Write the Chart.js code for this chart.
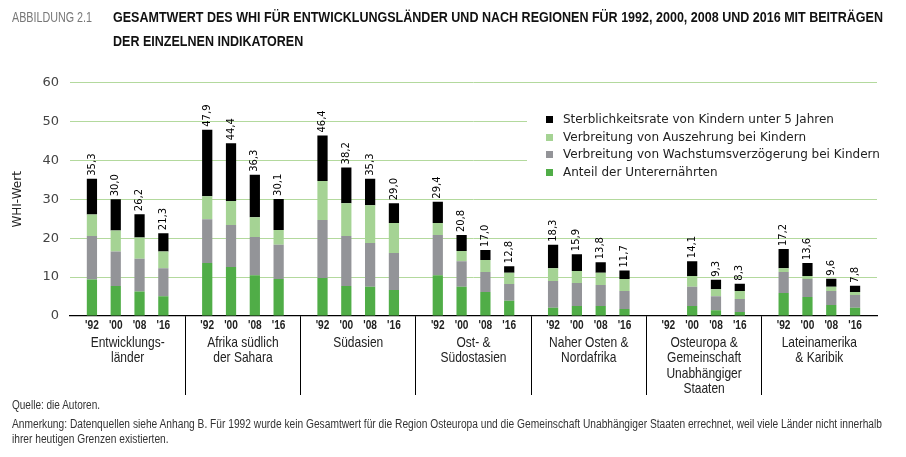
<!DOCTYPE html>
<html lang="de">

<head>
    <meta charset="UTF-8">
    <title>WHI nach Regionen</title>
    <script src="https://cdn.jsdelivr.net/npm/chart.js"></script>
    <style>
        body {
            margin: 0;
            background: #fff;
        }

        .seite {
            position: relative;
            width: 906px;
            height: 457px;
            overflow: hidden;
            font-family: "Liberation Sans", Arial, sans-serif;
        }

        .grafik {
            position: absolute;
            left: 0;
            top: 0;
            width: 906px;
            height: 457px;
        }

        .schmal {
            position: absolute;
            white-space: nowrap;
            transform-origin: 0 0;
        }

        .abb {
            left: 12px;
            top: 5px;
            font-size: 14px;
            line-height: 24px;
            color: #777;
        }

        .titel {
            left: 113px;
            top: 5px;
            font-size: 15px;
            line-height: 24px;
            font-weight: bold;
            color: #111;
        }

        .fuss {
            left: 12px;
            font-size: 12px;
            line-height: 15px;
            color: #333;
        }

        .legende {
            position: absolute;
            left: 527px;
            top: 100px;
            width: 350px;
            height: 88px;
            padding-top: 11px;
            box-sizing: border-box;
            background: #fff;
            font-family: "DejaVu Sans", sans-serif;
            font-size: 12px;
            color: #222;
        }

        .legende div {
            position: relative;
            height: 17.5px;
            line-height: 17.5px;
            padding-left: 36px;
            white-space: nowrap;
        }

        .legende span {
            position: absolute;
            left: 19px;
            top: 5px;
            width: 7px;
            height: 7px;
        }
    </style>
</head>

<body>
    <div class="seite">
        <div class="grafik"><canvas id="whiGrafik"></canvas></div>
        <div class="schmal abb" data-breite="80">ABBILDUNG 2.1</div>
        <div class="schmal titel" data-breite="770">GESAMTWERT DES WHI FÜR ENTWICKLUNGSLÄNDER UND NACH REGIONEN FÜR 1992, 2000, 2008 UND 2016 MIT BEITRÄGEN<br>DER EINZELNEN INDIKATOREN</div>
        <div class="legende" id="legende"></div>
        <div class="schmal fuss" style="top:397.5px" data-breite="88">Quelle: die Autoren.</div>
        <div class="schmal fuss" style="top:416.5px" data-breite="870">Anmerkung: Datenquellen siehe Anhang B. Für 1992 wurde kein Gesamtwert für die Region Osteuropa und die Gemeinschaft Unabhängiger Staaten errechnet, weil viele Länder nicht innerhalb<br>ihrer heutigen Grenzen existierten.</div>
    </div>

    <script>
        // Regionen (Kategorien) und Jahre
        const regionen = [
            ['Entwicklungs-', 'länder'],
            ['Afrika südlich', 'der Sahara'],
            ['Südasien'],
            ['Ost- &', 'Südostasien'],
            ['Naher Osten &', 'Nordafrika'],
            ['Osteuropa &', 'Gemeinschaft', 'Unabhängiger', 'Staaten'],
            ['Lateinamerika', '& Karibik']
        ];
        const jahre = ["'92", "'00", "'08", "'16"];

        // Beiträge je Region, Spalten = '92, '00, '08, '16
        const unterernaehrte = [
            [9.4, 7.7, 6.3, 5.1],
            [13.6, 12.6, 10.5, 9.5],
            [9.8, 7.7, 7.5, 6.7],
            [10.5, 7.5, 6.2, 3.9],
            [2.1, 2.6, 2.6, 1.8],
            [null, 2.6, 1.5, 1.0],
            [5.9, 4.9, 2.8, 2.1]
        ];
        const wachstum = [
            [11.2, 8.9, 8.4, 7.2],
            [11.3, 10.8, 9.8, 8.8],
            [14.9, 12.9, 11.3, 9.5],
            [10.3, 6.6, 5.1, 4.3],
            [6.9, 5.9, 5.4, 4.6],
            [null, 4.9, 3.6, 3.4],
            [5.4, 4.6, 3.6, 3.3]
        ];
        const auszehrung = [
            [5.5, 5.4, 5.5, 4.3],
            [5.9, 6.2, 5.1, 3.8],
            [10.0, 8.4, 9.7, 7.7],
            [3.1, 2.6, 3.1, 2.9],
            [3.3, 3.1, 3.1, 3.1],
            [null, 2.8, 1.8, 2.0],
            [1.0, 0.8, 1.1, 0.8]
        ];
        const sterblichkeit = [
            [9.2, 8.0, 6.0, 4.7],
            [17.1, 14.8, 10.9, 8.0],
            [11.7, 9.2, 6.8, 5.1],
            [5.5, 4.1, 2.6, 1.7],
            [6.0, 4.3, 2.7, 2.2],
            [null, 3.8, 2.4, 1.9],
            [4.9, 3.3, 2.1, 1.6]
        ];
        const gesamt = [
            [35.3, 30.0, 26.2, 21.3],
            [47.9, 44.4, 36.3, 30.1],
            [46.4, 38.2, 35.3, 29.0],
            [29.4, 20.8, 17.0, 12.8],
            [18.3, 15.9, 13.8, 11.7],
            [null, 14.1, 9.3, 8.3],
            [17.2, 13.6, 9.6, 7.8]
        ];

        // schmale Schrift nachbilden: waagrecht stauchen
        document.querySelectorAll('[data-breite]').forEach(function (el) {
            var ziel = parseFloat(el.dataset.breite);
            var ist = el.getBoundingClientRect().width;
            el.style.transform = 'scaleX(' + (ziel / ist) + ')';
        });

        // von unten nach oben gestapelt
        const indikatoren = [
            { name: 'Anteil der Unterernährten', werte: unterernaehrte, farbe: '#50ad47' },
            { name: 'Verbreitung von Wachstumsverzögerung bei Kindern', werte: wachstum, farbe: '#939498' },
            { name: 'Verbreitung von Auszehrung bei Kindern', werte: auszehrung, farbe: '#a5d394' },
            { name: 'Sterblichkeitsrate von Kindern unter 5 Jahren', werte: sterblichkeit, farbe: '#000000' }
        ];

        var datensaetze = [];
        jahre.forEach(function (jahr, j) {
            indikatoren.forEach(function (ind) {
                datensaetze.push({
                    label: ind.name + ' ' + jahr,
                    data: ind.werte.map(function (r) { return r[j]; }),
                    backgroundColor: ind.farbe,
                    stack: jahr,
                    categoryPercentage: 0.826,
                    barPercentage: 0.43
                });
            });
        });

        // Legende (oben nach unten wie im Original)
        var legende = document.getElementById('legende');
        indikatoren.slice().reverse().forEach(function (ind) {
            var zeile = document.createElement('div');
            zeile.innerHTML = '<span style="background:' + ind.farbe + '"></span>' + ind.name;
            legende.appendChild(zeile);
        });

        function schmalText(ctx, text, x, y, stauchung) {
            ctx.save();
            ctx.translate(x, y);
            ctx.scale(stauchung, 1);
            ctx.fillText(text, 0, 0);
            ctx.restore();
        }

        // Summen über den Balken, Jahre und Regionen unter der Achse
        const beschriftung = {
            id: 'beschriftung',
            afterDatasetsDraw(chart) {
                const ctx = chart.ctx;
                const xAchse = chart.scales.x;
                ctx.save();
                ctx.textAlign = 'center';
                ctx.textBaseline = 'middle';

                // Regionsnamen
                ctx.fillStyle = '#222';
                ctx.font = '15px "Liberation Sans", Arial, sans-serif';
                regionen.forEach(function (zeilen, i) {
                    var x = xAchse.getPixelForTick(i);
                    zeilen.forEach(function (z, k) {
                        schmalText(ctx, z, x, xAchse.top + 26.5 + k * 15.5, 0.8);
                    });
                });

                jahre.forEach(function (jahr, j) {
                    var oben = chart.getDatasetMeta(j * 4 + 3);
                    for (var i = 0; i < regionen.length; i++) {
                        var el = oben.data[i];
                        ctx.fillStyle = '#222';
                        ctx.font = 'bold 13px "Liberation Sans", Arial, sans-serif';
                        ctx.textAlign = 'center';
                        schmalText(ctx, jahr, el.x, xAchse.top + 9, 0.78);

                        if (gesamt[i][j] == null) continue;
                        ctx.save();
                        ctx.translate(el.x, el.y - 3);
                        ctx.rotate(-Math.PI / 2);
                        ctx.font = '10px "DejaVu Sans", sans-serif';
                        ctx.fillStyle = '#000';
                        ctx.textAlign = 'left';
                        ctx.fillText(gesamt[i][j].toFixed(1).replace('.', ','), 0, 0);
                        ctx.restore();
                    }
                });
                ctx.restore();
            }
        };

        var grafik = document.getElementById('whiGrafik');
        var balken = new Chart(grafik, {
            type: 'bar',
            data: {
                labels: regionen.map(function (z) { return z.join(' '); }),
                datasets: datensaetze
            },
            plugins: [beschriftung],
            options: {
                responsive: true,
                maintainAspectRatio: false,
                animation: false,
                layout: {
                    padding: { top: 82.7, right: 29, bottom: 41, left: 0 }
                },
                plugins: {
                    legend: { display: false },
                    tooltip: { enabled: false }
                },
                scales: {
                    x: {
                        stacked: true,
                        afterFit: function (scale) { scale.height = 100; },
                        grid: {
                            offset: true,
                            drawOnChartArea: false,
                            tickLength: 79,
                            color: function (c) {
                                return (c.type === 'tick' && c.index > 0) ? '#000' : 'rgba(0,0,0,0)';
                            }
                        },
                        border: { color: '#000', width: 1.2 },
                        ticks: { display: false }
                    },
                    y: {
                        stacked: true,
                        min: 0,
                        max: 60,
                        afterFit: function (scale) { scale.width = 70; },
                        grid: {
                            drawTicks: false,
                            color: function (c) {
                                return c.tick && c.tick.value === 0 ? 'rgba(0,0,0,0)' : '#b3d99d';
                            }
                        },
                        border: { display: false },
                        ticks: {
                            stepSize: 10,
                            padding: 11,
                            color: '#444',
                            font: { family: '"DejaVu Sans", sans-serif', size: 13 }
                        },
                        title: {
                            display: true,
                            text: 'WHI-Wert',
                            color: '#222',
                            padding: { top: 11, bottom: 0 },
                            font: { family: '"DejaVu Sans", sans-serif', size: 12 }
                        }
                    }
                }
            }
        });
    </script>
</body>

</html>
